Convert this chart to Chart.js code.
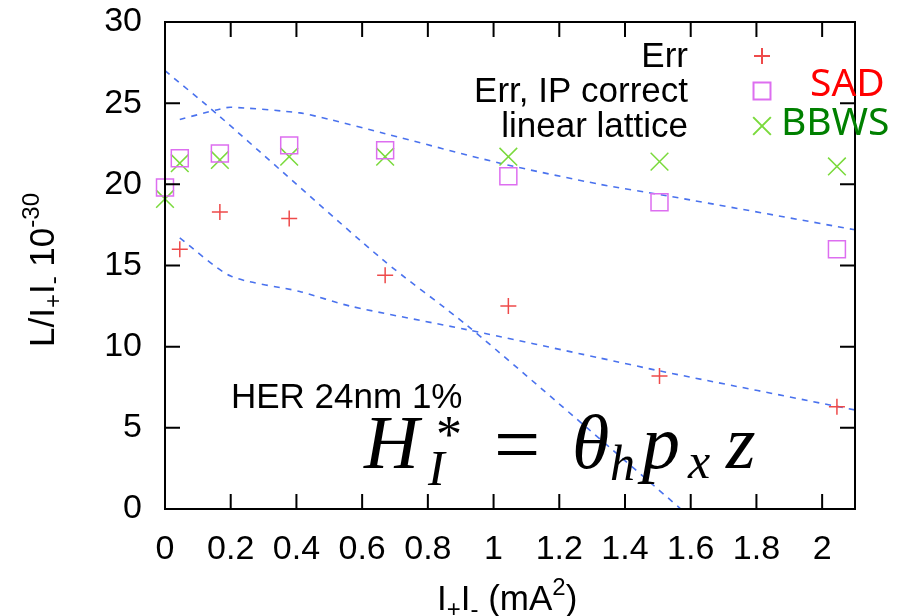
<!DOCTYPE html>
<html>
<head>
<meta charset="utf-8">
<script src="https://cdn.jsdelivr.net/npm/chart.js@4.4.1/dist/chart.umd.min.js"></script>
<style>
  html, body { margin: 0; padding: 0; background: #fff; }
  #wrap { width: 897px; height: 616px; }
</style>
</head>
<body>
<div id="wrap"><canvas id="lumi"></canvas></div>
<script>
// I+I- (mA^2) of each simulation run
const currents    = [0, 0.045, 0.167, 0.378, 0.67, 1.045, 1.505, 2.045];
const errCurrents = [0.045, 0.167, 0.378, 0.67, 1.045, 1.505, 2.045];

// L/I+I- in units of 1e-30
const lumiErr       = [16.0, 18.3, 17.9, 14.4, 12.5, 8.2, 6.3];
const lumiIpCorrect = [19.8, 21.6, 21.9, 22.4, 22.1, 20.5, 18.9, 16.0];
const lumiLinear    = [19.1, 21.3, 21.5, 21.7, 21.7, 21.7, 21.4, 21.1];

// guide curves (dashed)
const steepX = [0, 0.16, 0.66, 0.92, 1.29, 1.57];
const steepY = [27.0, 24.3, 15.4, 11.3, 4.9, 0];
const upperX = [0.045, 0.16, 0.2, 0.41, 0.5, 0.665, 1.02, 1.324, 1.527, 2.1];
const upperY = [24.0, 24.6, 24.75, 24.4, 24.0, 23.15, 21.3, 20.0, 19.3, 17.2];
const lowerX = [0.045, 0.2, 0.41, 0.563, 0.918, 1.324, 1.507, 2.1];
const lowerY = [16.7, 14.35, 13.4, 12.5, 11.05, 9.3, 8.5, 6.1];

const seriesNames = ['Err', 'Err, IP correct', 'linear lattice'];

const SANS = "'Liberation Sans', Arial, sans-serif";
const SERIF = "'Liberation Serif', 'Times New Roman', serif";
const DASH_BLUE = '#4a72ee';

const pts = (xs, ys) => xs.map((v, i) => ({ x: v, y: ys[i] }));

function guide(xs, ys) {
  return {
    type: 'line',
    data: pts(xs, ys),
    borderColor: DASH_BLUE,
    borderWidth: 1.6,
    borderDash: [6, 6],
    pointRadius: 0,
    tension: 0.25,
    fill: false
  };
}

// draw a string made of normal / sub / sup pieces
function drawRuns(ctx, x0, y0, runs) {
  let x = x0;
  runs.forEach(r => {
    ctx.font = r.font;
    ctx.fillText(r.text, x, y0 + (r.dy || 0));
    x += ctx.measureText(r.text).width + (r.gap || 0);
  });
}

const framePlugin = {
  id: 'frame',
  afterDraw(chart) {
    const { ctx, chartArea: a, scales: { x, y } } = chart;
    ctx.save();

    // box and inward ticks on all four sides
    ctx.strokeStyle = '#000';
    ctx.lineWidth = 2;
    ctx.strokeRect(a.left, a.top, a.right - a.left, a.bottom - a.top);
    ctx.beginPath();
    x.ticks.forEach(t => {
      const px = x.getPixelForValue(t.value);
      if (px <= a.left + 1 || px >= a.right - 1) return;
      ctx.moveTo(px, a.bottom); ctx.lineTo(px, a.bottom - 15);
      ctx.moveTo(px, a.top); ctx.lineTo(px, a.top + 15);
    });
    y.ticks.forEach(t => {
      const py = y.getPixelForValue(t.value);
      if (py <= a.top + 1 || py >= a.bottom - 1) return;
      ctx.moveTo(a.left, py); ctx.lineTo(a.left + 15, py);
      ctx.moveTo(a.right, py); ctx.lineTo(a.right - 15, py);
    });
    ctx.stroke();

    // key, right aligned text with marker to its right
    ctx.textAlign = 'right';
    ctx.textBaseline = 'alphabetic';
    ctx.font = '35px ' + SANS;
    const rowY = [56, 91, 126];
    seriesNames.forEach((name, i) => {
      const ds = chart.data.datasets[i];
      ctx.fillStyle = '#000';
      ctx.fillText(name, 688, rowY[i] + 11);
      ctx.strokeStyle = ds.borderColor;
      ctx.fillStyle = 'rgba(0,0,0,0)';
      Chart.helpers.drawPoint(ctx, {
        pointStyle: ds.pointStyle, radius: ds.pointRadius,
        rotation: 0, borderWidth: ds.borderWidth
      }, 762, rowY[i]);
    });

    ctx.textAlign = 'left';
    ctx.font = '39px "Noto Sans", sans-serif';
    ctx.fillStyle = '#ff0000';
    ctx.fillText('SAD', 810, 96);
    ctx.fillStyle = '#008000';
    ctx.fillText('BBWS', 781, 135);

    ctx.fillStyle = '#000';
    ctx.font = '35px ' + SANS;
    ctx.fillText('HER 24nm 1%', 231, 408);

    // H_I^* = theta_h p_x z
    const big = 'italic 76px ' + SERIF;
    const small = 'italic 50px ' + SERIF;
    ctx.font = big;   ctx.fillText('H', 364, 468);
    ctx.font = '52px ' + SERIF; ctx.fillText('*', 436, 452);
    ctx.font = small; ctx.fillText('I', 428, 485);
    ctx.font = '82px ' + SERIF; ctx.fillText('=', 494, 472);
    ctx.font = big;   ctx.fillText('θ', 572, 468);
    ctx.font = small; ctx.fillText('h', 610, 480);
    ctx.font = big;   ctx.fillText('p', 642, 468);
    ctx.font = small; ctx.fillText('x', 688, 478);
    ctx.font = big;   ctx.fillText('z', 726, 468);

    // axis titles with sub/superscripts
    const norm = '35px ' + SANS, sub = '24px ' + SANS;
    drawRuns(ctx, 437, 610, [
      { text: 'I', font: norm },
      { text: '+', font: sub, dy: 7 },
      { text: 'I', font: norm },
      { text: '-', font: sub, dy: 7 },
      { text: ' (mA', font: norm },
      { text: '2', font: sub, dy: -15 },
      { text: ')', font: norm }
    ]);
    ctx.translate(54, 347);
    ctx.rotate(-Math.PI / 2);
    drawRuns(ctx, 0, 0, [
      { text: 'L/I', font: norm },
      { text: '+', font: sub, dy: 7 },
      { text: 'I', font: norm },
      { text: '-', font: sub, dy: 7 },
      { text: ' 10', font: norm },
      { text: '-30', font: sub, dy: -15 }
    ]);
    ctx.restore();
  }
};

new Chart(document.getElementById('lumi'), {
  type: 'scatter',
  data: {
    datasets: [
      {
        label: seriesNames[0],
        data: pts(errCurrents, lumiErr),
        pointStyle: 'cross', pointRadius: 8, clip: false,
        borderColor: '#ee4a4a', backgroundColor: 'rgba(0,0,0,0)', borderWidth: 1.5
      },
      {
        label: seriesNames[1],
        data: pts(currents, lumiIpCorrect),
        pointStyle: 'rect', pointRadius: 12, clip: false,
        borderColor: '#dd6ef0', backgroundColor: 'rgba(0,0,0,0)', borderWidth: 1.5
      },
      {
        label: seriesNames[2],
        data: pts(currents, lumiLinear),
        pointStyle: 'crossRot', pointRadius: 12.5, clip: false,
        borderColor: '#7ada3c', backgroundColor: 'rgba(0,0,0,0)', borderWidth: 1.5
      },
      guide(steepX, steepY),
      guide(upperX, upperY),
      guide(lowerX, lowerY)
    ]
  },
  options: {
    responsive: true,
    maintainAspectRatio: false,
    animation: false,
    layout: { padding: { top: 22, right: 42, left: 0, bottom: 0 } },
    plugins: {
      legend: { display: false },
      tooltip: { enabled: false }
    },
    scales: {
      x: {
        type: 'linear', min: 0, max: 2.1,
        grid: { display: false },
        border: { display: false },
        afterFit: s => { s.height = 107; s.paddingLeft = 0; s.paddingRight = 0; },
        ticks: {
          stepSize: 0.2, includeBounds: false, autoSkip: false, maxRotation: 0, padding: 12,
          color: '#000', font: { family: SANS, size: 34 },
          callback: v => String(Math.round(v * 10) / 10)
        }
      },
      y: {
        min: 0, max: 30,
        grid: { display: false },
        border: { display: false },
        afterFit: s => { s.width = 165; s.paddingTop = 0; s.paddingBottom = 0; },
        ticks: {
          stepSize: 5, padding: 15,
          color: '#000', font: { family: SANS, size: 34 }
        }
      }
    }
  },
  plugins: [framePlugin]
});
</script>
</body>
</html>
